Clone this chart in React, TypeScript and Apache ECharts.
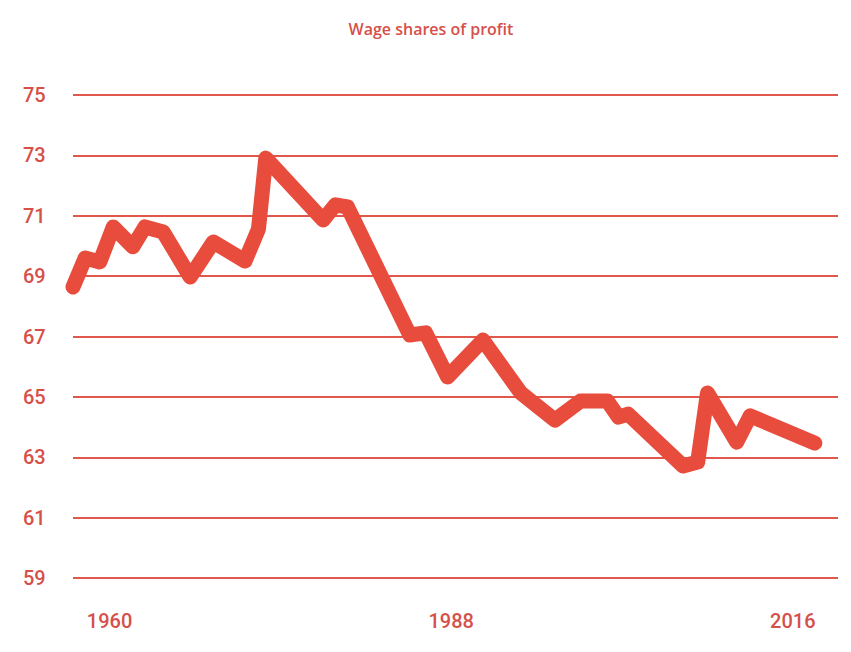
import React, { useEffect, useRef } from "react";
import * as echarts from "echarts";

const title = "Wage shares of profit";
const years = [1957, 1958, 1959.2, 1960.3, 1961.9, 1962.9, 1964.4, 1966.6, 1968.5, 1971.1, 1972.2, 1972.8, 1977.5, 1978.5, 1979.5, 1984.6, 1985.9, 1987.7, 1990.6, 1993.7, 1996.5, 1998.6, 2000.8, 2001.7, 2002.5, 2007.0, 2008.2, 2009.0, 2011.4, 2012.5, 2017.8];
const values = [68.64, 69.6, 69.47, 70.63, 69.97, 70.63, 70.46, 68.97, 70.13, 69.5, 70.56, 72.91, 70.86, 71.36, 71.29, 67.05, 67.12, 65.66, 66.88, 65.13, 64.23, 64.86, 64.86, 64.33, 64.43, 62.71, 62.84, 65.13, 63.5, 64.37, 63.47];
const xTickLabels = [1960, 1988, 2016];
const yMin = 59;
const yMax = 75;
const yStep = 2;

const TEXT = "#d6504a";
const LINE = "#e84c3d";
const GRID = "#e0574b";
const FONT = "Roboto, 'Liberation Sans', Arial, sans-serif";

export default function App() {
  const ref = useRef<HTMLDivElement>(null);
  useEffect(() => {
    if (!ref.current) return;
    const chart = echarts.init(ref.current, undefined, { renderer: "svg" });
    chart.setOption({
      animation: false,
      backgroundColor: "#ffffff",
      title: {
        text: title,
        left: 431,
        top: 29,
        padding: 0,
        textAlign: "center",
        textVerticalAlign: "middle",
        textStyle: { color: TEXT, fontSize: 16, fontWeight: 600, fontFamily: "'Open Sans', Roboto, sans-serif" },
      },
      grid: { left: 73, right: 13, top: 95, bottom: 74 },
      xAxis: {
        type: "value",
        min: 1957,
        max: 2019.7,
        axisLine: { show: false },
        axisTick: { show: false },
        splitLine: { show: false },
        axisLabel: {
          customValues: xTickLabels,
          color: TEXT,
          fontSize: 20,
          fontWeight: 500,
          fontFamily: FONT,
          margin: 33,
          formatter: (v: number) => String(v),
        },
      },
      yAxis: {
        type: "value",
        min: yMin,
        max: yMax,
        interval: yStep,
        axisLine: { show: false },
        axisTick: { show: false },
        splitLine: { show: true, lineStyle: { color: GRID, width: 2 } },
        axisLabel: {
          color: TEXT,
          fontSize: 20,
          fontWeight: 500,
          fontFamily: FONT,
          align: "left",
          margin: 50,
        },
      },
      series: [
        {
          type: "line",
          data: years.map((y, i) => [y, values[i]]),
          showSymbol: false,
          symbol: "none",
          clip: false,
          lineStyle: { color: LINE, width: 15, cap: "round", join: "round" },
        },
      ],
    });
    return () => chart.dispose();
  }, []);
  return (
    <div
      ref={ref}
      style={{ position: "fixed", left: 0, top: 0, width: 851, height: 652 }}
    />
  );
}
